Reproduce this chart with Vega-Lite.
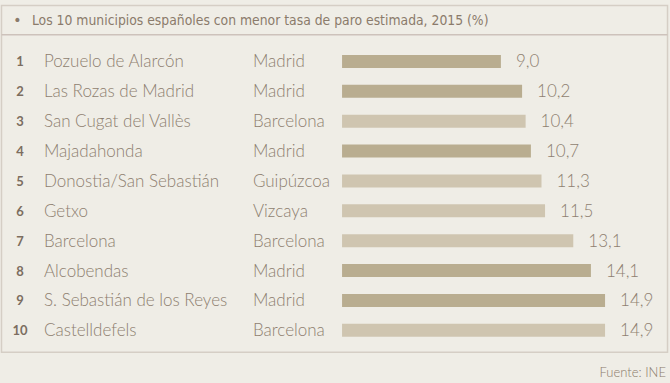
{
  "$schema": "https://vega.github.io/schema/vega-lite/v6.json",
  "width": 670,
  "height": 383,
  "padding": 0,
  "autosize": {"type": "none"},
  "background": "#efede6",
  "config": {
    "view": {"stroke": null},
    "locale": {"number": {"decimal": ",", "thousands": ".", "grouping": [3], "currency": ["", " €"]}}
  },
  "data": {
    "values": [
      {"rank": 1, "municipio": "Pozuelo de Alarcón", "provincia": "Madrid", "tasa": 9.0},
      {"rank": 2, "municipio": "Las Rozas de Madrid", "provincia": "Madrid", "tasa": 10.2},
      {"rank": 3, "municipio": "San Cugat del Vallès", "provincia": "Barcelona", "tasa": 10.4},
      {"rank": 4, "municipio": "Majadahonda", "provincia": "Madrid", "tasa": 10.7},
      {"rank": 5, "municipio": "Donostia/San Sebastián", "provincia": "Guipúzcoa", "tasa": 11.3},
      {"rank": 6, "municipio": "Getxo", "provincia": "Vizcaya", "tasa": 11.5},
      {"rank": 7, "municipio": "Barcelona", "provincia": "Barcelona", "tasa": 13.1},
      {"rank": 8, "municipio": "Alcobendas", "provincia": "Madrid", "tasa": 14.1},
      {"rank": 9, "municipio": "S. Sebastián de los Reyes", "provincia": "Madrid", "tasa": 14.9},
      {"rank": 10, "municipio": "Castelldefels", "provincia": "Barcelona", "tasa": 14.9}
    ]
  },
  "layer": [
    {
      "data": {"values": [{}]},
      "mark": {"type": "rect", "fill": "#efede6", "stroke": "#d5cec5", "strokeWidth": 1.5},
      "encoding": {
        "x": {"datum": -19.295, "type": "quantitative", "scale": {"domain": [-19.38, 18.58], "nice": false, "zero": false}, "axis": null},
        "x2": {"datum": 18.44},
        "y": {"datum": -0.875, "type": "quantitative", "scale": {"domain": [-0.891, 11.598], "reverse": true, "nice": false, "zero": false}, "axis": null},
        "y2": {"datum": 10.733}
      }
    },
    {
      "data": {"values": [{}]},
      "mark": {"type": "rule", "stroke": "#cdc2bb", "strokeWidth": 1.5},
      "encoding": {
        "x": {"datum": -19.295, "type": "quantitative"},
        "x2": {"datum": 18.44},
        "y": {"datum": 0.103, "type": "quantitative"}
      }
    },
    {
      "data": {"values": [{}]},
      "mark": {"type": "text", "text": "•", "fontSize": 14, "color": "#8b7b6b", "align": "center", "baseline": "middle", "font": "DejaVu Sans"},
      "encoding": {
        "x": {"datum": -18.4, "type": "quantitative"},
        "y": {"datum": -0.34, "type": "quantitative"}
      }
    },
    {
      "data": {"values": [{}]},
      "mark": {"type": "text", "text": "Los 10 municipios españoles con menor tasa de paro estimada, 2015  (%)", "fontSize": 13.8, "color": "#8b7b6b", "align": "left", "baseline": "middle", "font": "DejaVu Sans Condensed, Roboto Condensed, Roboto"},
      "encoding": {
        "x": {"datum": -17.57, "type": "quantitative"},
        "y": {"datum": -0.34, "type": "quantitative"}
      }
    },
    {
      "mark": {"type": "bar", "orient": "horizontal", "height": 13},
      "encoding": {
        "x": {"field": "tasa", "type": "quantitative"},
        "x2": {"datum": 0},
        "y": {"field": "rank", "type": "quantitative"},
        "color": {"field": "provincia", "type": "nominal", "scale": {"domain": ["Madrid", "Barcelona", "Guipúzcoa", "Vizcaya"], "range": ["#b9ad90", "#cfc5b0", "#cfc5b0", "#cfc5b0"]}, "legend": null}
      }
    },
    {
      "mark": {"type": "text", "align": "left", "baseline": "middle", "dx": 15, "dy": 1, "fontSize": 17, "fontWeight": 300, "font": "Lato", "color": "#8e7f70"},
      "encoding": {
        "x": {"field": "tasa", "type": "quantitative"},
        "y": {"field": "rank", "type": "quantitative"},
        "text": {"field": "tasa", "type": "quantitative", "format": ".1f"}
      }
    },
    {
      "mark": {"type": "text", "align": "center", "baseline": "middle", "dy": 1, "fontSize": 13, "fontWeight": "bold", "font": "Lato", "color": "#7c6d60"},
      "encoding": {
        "x": {"datum": -18.25, "type": "quantitative"},
        "y": {"field": "rank", "type": "quantitative"},
        "text": {"field": "rank", "type": "nominal"}
      }
    },
    {
      "mark": {"type": "text", "align": "left", "baseline": "middle", "dy": 1, "fontSize": 17, "fontWeight": 300, "font": "Lato", "color": "#8e7f70"},
      "encoding": {
        "x": {"datum": -16.89, "type": "quantitative"},
        "y": {"field": "rank", "type": "quantitative"},
        "text": {"field": "municipio", "type": "nominal"}
      }
    },
    {
      "mark": {"type": "text", "align": "left", "baseline": "middle", "dy": 1, "fontSize": 17, "fontWeight": 300, "font": "Lato", "color": "#8e7f70"},
      "encoding": {
        "x": {"datum": -5.05, "type": "quantitative"},
        "y": {"field": "rank", "type": "quantitative"},
        "text": {"field": "provincia", "type": "nominal"}
      }
    },
    {
      "data": {"values": [{}]},
      "mark": {"type": "text", "text": "Fuente: INE", "align": "right", "baseline": "middle", "fontSize": 13, "fontWeight": 300, "font": "Lato", "color": "#8b7b6b"},
      "encoding": {
        "x": {"datum": 18.35, "type": "quantitative"},
        "y": {"datum": 11.43, "type": "quantitative"}
      }
    }
  ]
}
